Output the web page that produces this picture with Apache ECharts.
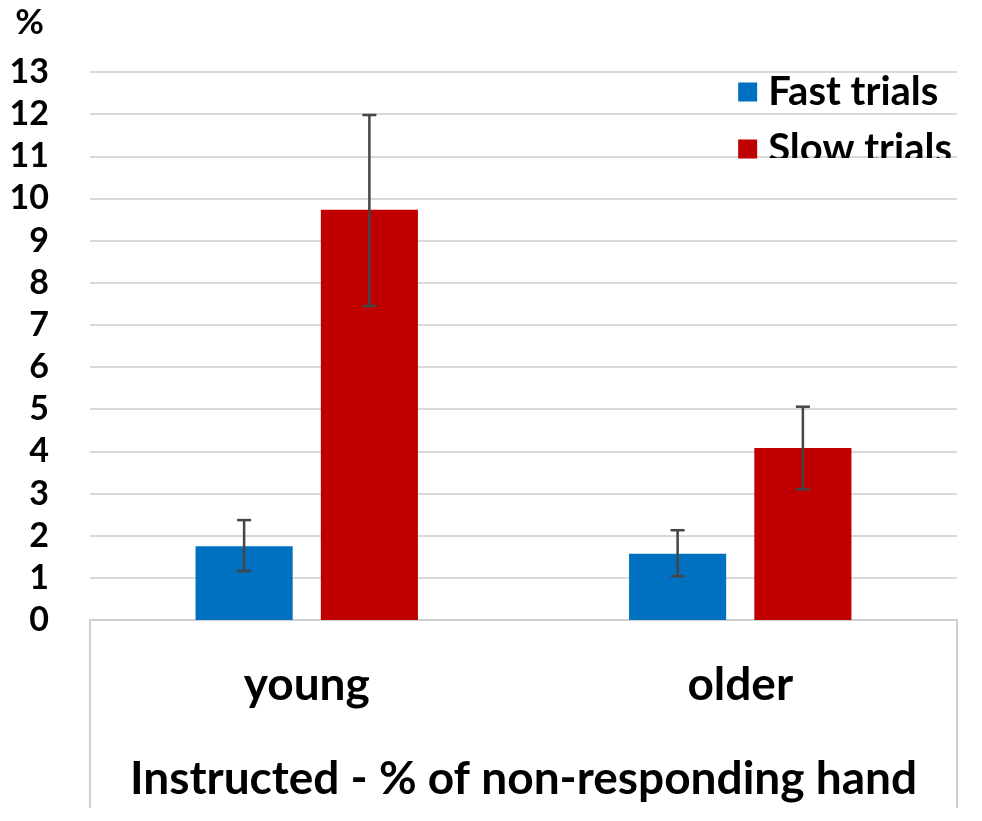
<!DOCTYPE html>
<html>
<head>
<meta charset="utf-8">
<script src="https://cdn.jsdelivr.net/npm/echarts@6/dist/echarts.min.js"></script>
<style>html,body{margin:0;padding:0;background:#fff;}#c{width:982px;height:821px;}</style>
</head>
<body>
<div id="c"></div>
<script>
const categories = ['young', 'older'];
const seriesNames = ['Fast trials', 'Slow trials'];
const fastValues = [1.75, 1.57];
const slowValues = [9.73, 4.08];
const fastErrLow = [1.16, 1.04];
const fastErrHigh = [2.37, 2.13];
const slowErrLow = [7.45, 3.10];
const slowErrHigh = [11.98, 5.06];
const yTicks = [0, 1, 2, 3, 4, 5, 6, 7, 8, 9, 10, 11, 12, 13];

const FONT = 'Lato';
const chart = echarts.init(document.getElementById('c'));

function errSeries(idx, low, high) {
  return {
    type: 'custom',
    name: seriesNames[idx] + ' err',
    z: 10,
    silent: true,
    data: categories.map((c, i) => [i, low[i], high[i]]),
    renderItem: function (params, api) {
      const ci = api.value(0);
      const lo = api.coord([ci, api.value(1)]);
      const hi = api.coord([ci, api.value(2)]);
      const band = api.size([1, 0])[0];
      const barW = band * 0.224;
      const gap = barW * 0.29;
      const offset = (idx === 0 ? -1 : 1) * (barW + gap) / 2;
      const x = lo[0] + offset;
      const cap = 7;
      const style = { stroke: '#454545', lineWidth: 2.5 };
      return {
        type: 'group',
        children: [
          { type: 'line', shape: { x1: x, y1: lo[1], x2: x, y2: hi[1] }, style: style },
          { type: 'line', shape: { x1: x - cap, y1: hi[1], x2: x + cap, y2: hi[1] }, style: style },
          { type: 'line', shape: { x1: x - cap, y1: lo[1], x2: x + cap, y2: lo[1] }, style: style }
        ]
      };
    }
  };
}

const gridLeft = 90, gridRight = 25, gridTop = 72, gridBottom = 201;

chart.setOption({
  animation: false,
  backgroundColor: '#ffffff',
  textStyle: { fontFamily: FONT },
  grid: { left: gridLeft, right: gridRight, top: gridTop, bottom: gridBottom, containLabel: false },
  legend: {
    data: seriesNames,
    orient: 'vertical',
    right: 25,
    top: 67,
    itemWidth: 19,
    itemHeight: 19,
    itemGap: 17,
    icon: 'rect',
    textStyle: { fontFamily: FONT, fontWeight: 'bold', fontSize: 40, color: '#000', padding: [0, 0, 0, 6] }
  },
  xAxis: {
    type: 'category',
    data: categories,
    axisLine: { lineStyle: { color: '#d0d0d0', width: 2 } },
    axisTick: { show: false },
    axisLabel: { fontFamily: FONT, fontWeight: 'bold', fontSize: 46, color: '#000', margin: 42 },
    name: 'Instructed - % of non-responding hand',
    nameLocation: 'middle',
    nameGap: 136,
    nameTextStyle: { fontFamily: FONT, fontWeight: 'bold', fontSize: 46, color: '#000' }
  },
  yAxis: {
    type: 'value',
    min: yTicks[0],
    max: yTicks[yTicks.length - 1],
    interval: 1,
    name: '%',
    nameLocation: 'end',
    nameGap: 32,
    nameTextStyle: { fontFamily: FONT, fontWeight: 'bold', fontSize: 35, color: '#000', align: 'right', padding: [0, 46, 0, 0] },
    axisLine: { show: false },
    axisTick: { show: false },
    axisLabel: { fontFamily: FONT, fontWeight: 'bold', fontSize: 34, color: '#000', margin: 41 },
    splitLine: { lineStyle: { color: '#d9d9d9', width: 2 } }
  },
  series: [
    { type: 'bar', name: seriesNames[0], data: fastValues, barWidth: '22.4%', barGap: '29%', itemStyle: { color: '#0070c0' } },
    { type: 'bar', name: seriesNames[1], data: slowValues, barWidth: '22.4%', barGap: '29%', itemStyle: { color: '#c00000' } },
    errSeries(0, fastErrLow, fastErrHigh),
    errSeries(1, slowErrLow, slowErrHigh)
  ]
});

// category-axis box lines (left/right borders below the axis) and legend clip mask
const x0 = gridLeft, x1 = 982 - gridRight, yAxisPix = 821 - gridBottom;
chart.setOption({
  graphic: [
    { type: 'line', shape: { x1: x0, y1: yAxisPix, x2: x0, y2: 808 }, style: { stroke: '#d0d0d0', lineWidth: 2 } },
    { type: 'line', shape: { x1: x1, y1: yAxisPix, x2: x1, y2: 808 }, style: { stroke: '#d0d0d0', lineWidth: 2 } },
    { type: 'rect', z: 100, shape: { x: 765, y: 158, width: 200, height: 14 }, style: { fill: '#ffffff' } }
  ]
});
</script>
</body>
</html>
